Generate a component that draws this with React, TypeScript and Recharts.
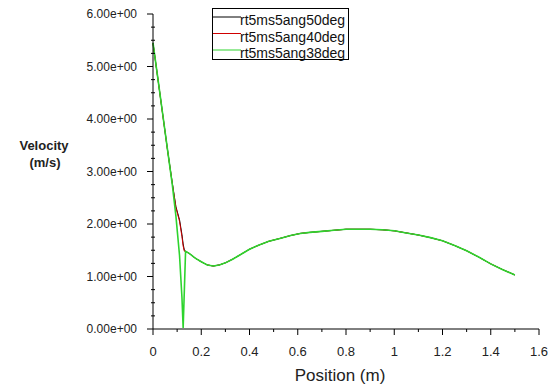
import { LineChart, Line, XAxis, YAxis, Legend } from 'recharts'

// position along the line (m)
const positions = [
  0, 0.02, 0.04, 0.06, 0.08, 0.095, 0.11, 0.12, 0.125, 0.13, 0.135, 0.15, 0.175, 0.2, 0.225, 0.25,
  0.275, 0.3, 0.33, 0.36, 0.4, 0.44, 0.48, 0.53, 0.57, 0.61, 0.65, 0.7, 0.75, 0.8, 0.85, 0.9, 0.95,
  1.0, 1.05, 1.1, 1.15, 1.2, 1.25, 1.3, 1.35, 1.4, 1.45, 1.5,
]

// velocity (m/s) for each case
const vel50 = [
  5.45, 4.78, 4.1, 3.42, 2.78, 2.33, 2.08, 1.8, 1.62, 1.5, 1.48, 1.44, 1.35, 1.28, 1.22, 1.2,
  1.22, 1.26, 1.33, 1.41, 1.52, 1.6, 1.67, 1.73, 1.78, 1.82, 1.84, 1.86, 1.88, 1.9, 1.9, 1.9, 1.89,
  1.87, 1.83, 1.79, 1.74, 1.68, 1.59, 1.49, 1.37, 1.24, 1.13, 1.03,
]
const vel40 = [
  5.44, 4.77, 4.09, 3.41, 2.77, 2.31, 2.05, 1.76, 1.58, 1.48, 1.48, 1.44, 1.35, 1.28, 1.22, 1.2,
  1.22, 1.26, 1.33, 1.41, 1.52, 1.6, 1.67, 1.73, 1.78, 1.82, 1.84, 1.86, 1.88, 1.9, 1.9, 1.9, 1.89,
  1.87, 1.83, 1.79, 1.74, 1.68, 1.59, 1.49, 1.37, 1.24, 1.13, 1.03,
]
const vel38 = [
  5.45, 4.78, 4.1, 3.42, 2.75, 2.15, 1.4, 0.6, 0.02, 0.75, 1.48, 1.44, 1.35, 1.28, 1.22, 1.2,
  1.22, 1.26, 1.33, 1.41, 1.52, 1.6, 1.67, 1.73, 1.78, 1.82, 1.84, 1.86, 1.88, 1.9, 1.9, 1.9, 1.89,
  1.87, 1.83, 1.79, 1.74, 1.68, 1.59, 1.49, 1.37, 1.24, 1.13, 1.03,
]

const seriesNames = ['rt5ms5ang50deg', 'rt5ms5ang40deg', 'rt5ms5ang38deg']
const seriesColors = ['#000000', '#d00000', '#2ed42e']

const xTicks = [0, 0.1, 0.2, 0.3, 0.4, 0.5, 0.6, 0.7, 0.8, 0.9, 1, 1.1, 1.2, 1.3, 1.4, 1.5, 1.6]
const xMajorLabels: Record<string, string> = {
  '0': '0', '0.2': '0.2', '0.4': '0.4', '0.6': '0.6', '0.8': '0.8', '1': '1', '1.2': '1.2', '1.4': '1.4', '1.6': '1.6',
}
const yTicks = Array.from({ length: 25 }, (_, i) => i / 4)
const yMajorLabels = ['0.00e+00', '1.00e+00', '2.00e+00', '3.00e+00', '4.00e+00', '5.00e+00', '6.00e+00']

const data = positions.map((x, i) => ({ x, v50: vel50[i], v40: vel40[i], v38: vel38[i] }))

const FONT = '"Liberation Sans", Arial, sans-serif'

function XTick({ x, y, payload }: any) {
  const label = xMajorLabels[String(Math.round(payload.value * 10) / 10)]
  return (
    <g>
      <line x1={x} x2={x} y1={y} y2={y + (label ? 6 : 3)} stroke="#000" />
      {label && (
        <text x={x} y={y + 27} textAnchor="middle" fontSize={13} fill="#222" fontFamily={FONT}>
          {label}
        </text>
      )}
    </g>
  )
}

function YTick({ x, y, payload }: any) {
  const v = payload.value
  const major = Number.isInteger(v)
  return (
    <g>
      <line x1={major ? x - 6 : x - 2} x2={major ? x : x + 2} y1={y} y2={y} stroke="#000" />
      {major && (
        <text x={x - 16} y={y + 4} textAnchor="end" fontSize={12} fill="#222" fontFamily={FONT}>
          {yMajorLabels[v]}
        </text>
      )}
    </g>
  )
}

// drawn from the series arrays so the order matches the reference
function LegendBox() {
  return (
    <svg width={140} height={56} style={{ display: 'block', overflow: 'visible' }}>
      {seriesNames.map((name, i) => (
        <g key={name}>
          <line x1={1} x2={29} y1={9 + i * 16.5} y2={9 + i * 16.5} stroke={seriesColors[i]} />
          <text x={28} y={17 + i * 16.5} fontSize={14} fill="#111" fontFamily={FONT}>
            {name}
          </text>
        </g>
      ))}
      <rect x={0.5} y={0.5} width={136} height={51} fill="none" stroke="#000" />
    </svg>
  )
}

export default function App() {
  return (
    <div style={{ position: 'absolute', left: 0, top: 0, width: 552, height: 387, background: '#fff' }}>
      <LineChart
        width={552}
        height={387}
        data={data}
        margin={{ top: 14, right: 13, bottom: 0, left: 0 }}
        style={{ fontFamily: FONT }}
      >
        <XAxis
          type="number"
          dataKey="x"
          domain={[0, 1.6]}
          ticks={xTicks}
          interval={0}
          height={58}
          tickSize={0}
          tickMargin={0}
          tickLine={false}
          stroke="#000"
          tick={<XTick />}
          label={(props: any) => {
            const vb = props.viewBox
            return (
              <text x={vb.x + vb.width / 2 - 6} y={vb.y + 52} textAnchor="middle" fontSize={17} fill="#222" fontFamily={FONT}>
                Position (m)
              </text>
            )
          }}
        />
        <YAxis
          type="number"
          domain={[0, 6]}
          ticks={yTicks}
          interval={0}
          width={153}
          tickSize={0}
          tickMargin={0}
          tickLine={false}
          stroke="#000"
          tick={<YTick />}
          label={() => (
            <text textAnchor="middle" fontSize={13} fontWeight="bold" fill="#222" fontFamily={FONT}>
              <tspan x={44} y={150}>Velocity</tspan>
              <tspan x={45} y={167}>(m/s)</tspan>
            </text>
          )}
        />
        <Legend
          layout="horizontal"
          verticalAlign="middle"
          align="center"
          content={<LegendBox />}
          wrapperStyle={{ left: 212, top: 8, width: 140, height: 56 }}
        />
        <Line dataKey="v50" name={seriesNames[0]} stroke={seriesColors[0]} strokeWidth={1} dot={false} isAnimationActive={false} />
        <Line dataKey="v40" name={seriesNames[1]} stroke={seriesColors[1]} strokeWidth={1} dot={false} isAnimationActive={false} />
        <Line dataKey="v38" name={seriesNames[2]} stroke={seriesColors[2]} strokeWidth={1.6} dot={false} isAnimationActive={false} />
      </LineChart>
    </div>
  )
}
